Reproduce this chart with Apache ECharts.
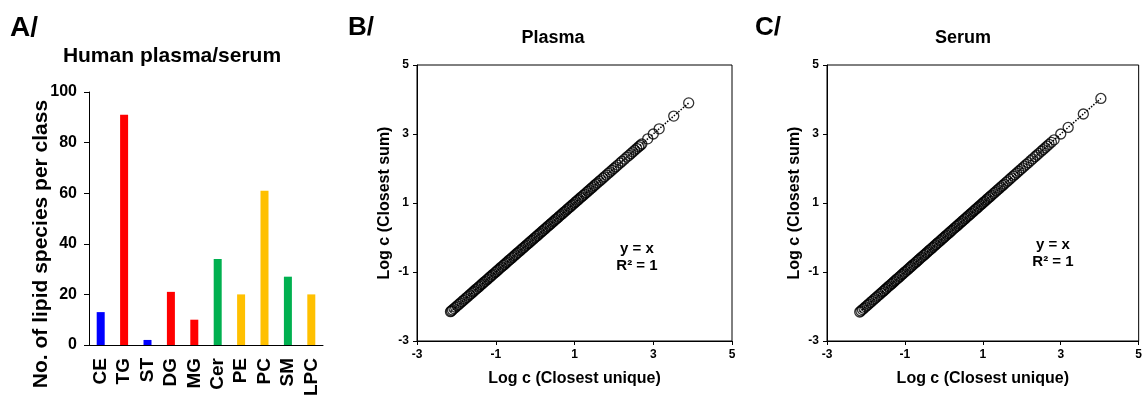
<!DOCTYPE html>
<html>
<head>
<meta charset="utf-8">
<script src="https://cdn.jsdelivr.net/npm/echarts@6/dist/echarts.min.js"></script>
<style>
html,body{margin:0;padding:0;background:#fff;}
#c{width:1145px;height:399px;}
</style>
</head>
<body>
<div id="c"></div>
<script>
// Panel A: lipid classes
const lipidClasses = ['CE','TG','ST','DG','MG','Cer','PE','PC','SM','LPC'];
const speciesCounts = [13, 91, 2, 21, 10, 34, 20, 61, 27, 20];
const classColors = ['#0000FF','#FF0000','#0000FF','#FF0000','#FF0000','#00B050','#FFC000','#FFC000','#00B050','#FFC000'];
const countTicks = [0, 20, 40, 60, 80, 100];

// Panel B: plasma, log c (closest unique) vs log c (closest sum)
const plasmaUnique = [-2.15,-2.13,-2.1,-2.06,-2.02,-1.98,-1.94,-1.9,-1.86,-1.82,-1.78,-1.74,-1.7,-1.66,-1.62,-1.58,-1.55,-1.51,-1.48,-1.44,-1.41,-1.37,-1.34,-1.3,-1.27,-1.23,-1.2,-1.16,-1.13,-1.09,-1.06,-1.02,-0.99,-0.95,-0.92,-0.88,-0.85,-0.81,-0.78,-0.74,-0.71,-0.67,-0.64,-0.6,-0.57,-0.53,-0.5,-0.46,-0.43,-0.39,-0.36,-0.32,-0.29,-0.25,-0.22,-0.18,-0.15,-0.11,-0.08,-0.04,-0.01,0.03,0.06,0.1,0.13,0.17,0.2,0.24,0.27,0.31,0.34,0.38,0.41,0.45,0.48,0.52,0.55,0.59,0.62,0.66,0.69,0.73,0.76,0.8,0.83,0.87,0.9,0.94,0.97,1.01,1.04,1.08,1.11,1.15,1.18,1.22,1.26,1.3,1.34,1.38,1.42,1.46,1.5,1.54,1.58,1.63,1.67,1.72,1.76,1.81,1.86,1.9,1.95,2.0,2.05,2.1,2.16,2.21,2.27,2.33,2.38,2.43,2.48,2.53,2.58,2.63,2.67,2.71,2.86,3.0,3.15,3.52,3.9];
const plasmaSum = [-2.15,-2.13,-2.1,-2.06,-2.02,-1.98,-1.94,-1.9,-1.86,-1.82,-1.78,-1.74,-1.7,-1.66,-1.62,-1.58,-1.55,-1.51,-1.48,-1.44,-1.41,-1.37,-1.34,-1.3,-1.27,-1.23,-1.2,-1.16,-1.13,-1.09,-1.06,-1.02,-0.99,-0.95,-0.92,-0.88,-0.85,-0.81,-0.78,-0.74,-0.71,-0.67,-0.64,-0.6,-0.57,-0.53,-0.5,-0.46,-0.43,-0.39,-0.36,-0.32,-0.29,-0.25,-0.22,-0.18,-0.15,-0.11,-0.08,-0.04,-0.01,0.03,0.06,0.1,0.13,0.17,0.2,0.24,0.27,0.31,0.34,0.38,0.41,0.45,0.48,0.52,0.55,0.59,0.62,0.66,0.69,0.73,0.76,0.8,0.83,0.87,0.9,0.94,0.97,1.01,1.04,1.08,1.11,1.15,1.18,1.22,1.26,1.3,1.34,1.38,1.42,1.46,1.5,1.54,1.58,1.63,1.67,1.72,1.76,1.81,1.86,1.9,1.95,2.0,2.05,2.1,2.16,2.21,2.27,2.33,2.38,2.43,2.48,2.53,2.58,2.63,2.67,2.71,2.86,3.0,3.15,3.52,3.9];
const plasmaFitX = [-2.15, 3.9];
const plasmaFitY = [-2.15, 3.9];

// Panel C: serum
const serumUnique = [-2.16,-2.13,-2.09,-2.05,-2.01,-1.97,-1.93,-1.89,-1.85,-1.81,-1.77,-1.73,-1.69,-1.65,-1.61,-1.57,-1.54,-1.5,-1.47,-1.43,-1.4,-1.36,-1.33,-1.29,-1.26,-1.22,-1.19,-1.15,-1.12,-1.08,-1.05,-1.01,-0.98,-0.94,-0.91,-0.87,-0.84,-0.8,-0.77,-0.73,-0.7,-0.66,-0.63,-0.59,-0.56,-0.52,-0.49,-0.45,-0.42,-0.38,-0.35,-0.31,-0.28,-0.24,-0.21,-0.17,-0.14,-0.1,-0.07,-0.03,0.0,0.04,0.07,0.11,0.14,0.18,0.21,0.25,0.28,0.32,0.35,0.39,0.42,0.46,0.49,0.53,0.56,0.6,0.63,0.67,0.7,0.74,0.77,0.81,0.84,0.88,0.91,0.95,0.98,1.02,1.05,1.09,1.12,1.16,1.19,1.23,1.27,1.31,1.35,1.39,1.43,1.47,1.51,1.55,1.6,1.64,1.69,1.73,1.78,1.82,1.87,1.92,1.97,2.02,2.07,2.12,2.17,2.23,2.28,2.34,2.39,2.44,2.5,2.55,2.6,2.65,2.7,2.76,2.83,3.0,3.19,3.58,4.03];
const serumSum = [-2.16,-2.13,-2.09,-2.05,-2.01,-1.97,-1.93,-1.89,-1.85,-1.81,-1.77,-1.73,-1.69,-1.65,-1.61,-1.57,-1.54,-1.5,-1.47,-1.43,-1.4,-1.36,-1.33,-1.29,-1.26,-1.22,-1.19,-1.15,-1.12,-1.08,-1.05,-1.01,-0.98,-0.94,-0.91,-0.87,-0.84,-0.8,-0.77,-0.73,-0.7,-0.66,-0.63,-0.59,-0.56,-0.52,-0.49,-0.45,-0.42,-0.38,-0.35,-0.31,-0.28,-0.24,-0.21,-0.17,-0.14,-0.1,-0.07,-0.03,0.0,0.04,0.07,0.11,0.14,0.18,0.21,0.25,0.28,0.32,0.35,0.39,0.42,0.46,0.49,0.53,0.56,0.6,0.63,0.67,0.7,0.74,0.77,0.81,0.84,0.88,0.91,0.95,0.98,1.02,1.05,1.09,1.12,1.16,1.19,1.23,1.27,1.31,1.35,1.39,1.43,1.47,1.51,1.55,1.6,1.64,1.69,1.73,1.78,1.82,1.87,1.92,1.97,2.02,2.07,2.12,2.17,2.23,2.28,2.34,2.39,2.44,2.5,2.55,2.6,2.65,2.7,2.76,2.83,3.0,3.19,3.58,4.03];
const serumFitX = [-2.16, 4.03];
const serumFitY = [-2.16, 4.03];

const logTicks = [-3, -1, 1, 3, 5];

const FONT = 'Arial, "Liberation Sans", sans-serif';
const zip = (a, b) => a.map((v, i) => [v, b[i]]);

function logAxis(gridIndex, name, isY) {
  return {
    type: 'value', gridIndex: gridIndex,
    min: logTicks[0], max: logTicks[logTicks.length - 1], interval: logTicks[1] - logTicks[0],
    name: name, nameLocation: 'middle', nameGap: isY ? 24 : 30,
    nameTextStyle: {fontFamily: FONT, fontWeight: 'bold', fontSize: 16, color: '#000'},
    axisLine: {show: true, onZero: false, lineStyle: {color: '#000', width: 1}},
    axisTick: {show: true, inside: false, length: 4, lineStyle: {color: '#000'}},
    axisLabel: {show: true, margin: 8, fontFamily: FONT, fontWeight: 'bold', fontSize: 12, color: '#000'},
    splitLine: {show: false}
  };
}

const chart = echarts.init(document.getElementById('c'), null, {renderer: 'canvas'});
const circleStyle = {color: 'rgba(0,0,0,0)', borderColor: '#000', borderWidth: 1.3};

chart.setOption({
  animation: false,
  backgroundColor: '#fff',
  grid: [
    {left: 89, top: 92, width: 234, height: 253, containLabel: false},
    {left: 417, top: 65, width: 315, height: 276, show: true, borderColor: '#000', borderWidth: 1, backgroundColor: 'transparent'},
    {left: 827, top: 65, width: 315, height: 276, show: true, borderColor: '#000', borderWidth: 1, backgroundColor: 'transparent'}
  ],
  xAxis: [
    {
      type: 'category', gridIndex: 0, data: lipidClasses,
      axisLine: {show: true, lineStyle: {color: '#000', width: 1}},
      axisTick: {show: false},
      axisLabel: {rotate: 90, margin: 13, fontFamily: FONT, fontWeight: 'bold', fontSize: 19, color: '#000', interval: 0}
    },
    logAxis(1, 'Log c (Closest unique)', false),
    logAxis(2, 'Log c (Closest unique)', false)
  ],
  yAxis: [
    {
      type: 'value', gridIndex: 0,
      min: countTicks[0], max: countTicks[countTicks.length - 1], interval: countTicks[1] - countTicks[0],
      axisLine: {show: true, lineStyle: {color: '#000', width: 1}},
      axisTick: {show: true, inside: false, length: 5, lineStyle: {color: '#000'}},
      axisLabel: {margin: 12, fontFamily: FONT, fontWeight: 'bold', fontSize: 16, color: '#000'},
      splitLine: {show: false}
    },
    logAxis(1, 'Log c (Closest sum)', true),
    logAxis(2, 'Log c (Closest sum)', true)
  ],
  series: [
    {
      type: 'bar', xAxisIndex: 0, yAxisIndex: 0, barWidth: 8,
      data: speciesCounts.map((v, i) => ({value: v, itemStyle: {color: classColors[i]}}))
    },
    {
      type: 'line', xAxisIndex: 1, yAxisIndex: 1, showSymbol: false, symbol: 'none',
      lineStyle: {color: '#000', width: 1.5, type: 'dotted'}, data: zip(plasmaFitX, plasmaFitY), z: 1
    },
    {
      type: 'scatter', xAxisIndex: 1, yAxisIndex: 1, symbol: 'circle', symbolSize: 10,
      itemStyle: circleStyle, data: zip(plasmaUnique, plasmaSum), z: 2
    },
    {
      type: 'line', xAxisIndex: 2, yAxisIndex: 2, showSymbol: false, symbol: 'none',
      lineStyle: {color: '#000', width: 1.5, type: 'dotted'}, data: zip(serumFitX, serumFitY), z: 1
    },
    {
      type: 'scatter', xAxisIndex: 2, yAxisIndex: 2, symbol: 'circle', symbolSize: 10,
      itemStyle: circleStyle, data: zip(serumUnique, serumSum), z: 2
    }
  ],
  graphic: [
    {type: 'text', left: 10, top: 14, style: {text: 'A/', font: 'bold 28px ' + FONT, fill: '#000'}},
    {type: 'text', x: 172, y: 56, style: {text: 'Human plasma/serum', font: 'bold 21px ' + FONT, fill: '#000', align: 'center', verticalAlign: 'middle'}},
    {type: 'text', x: 41, y: 244, rotation: Math.PI / 2, style: {text: 'No. of lipid species per class', font: 'bold 21px ' + FONT, fill: '#000', align: 'center', verticalAlign: 'middle'}},
    {type: 'text', left: 348, top: 15, style: {text: 'B/', font: 'bold 26px ' + FONT, fill: '#000'}},
    {type: 'text', x: 553, y: 38, style: {text: 'Plasma', font: 'bold 18px ' + FONT, fill: '#000', align: 'center', verticalAlign: 'middle'}},
    {type: 'text', x: 637, y: 249, style: {text: 'y = x', font: 'bold 15px ' + FONT, fill: '#000', align: 'center', verticalAlign: 'middle'}},
    {type: 'text', x: 637, y: 266, style: {text: 'R² = 1', font: 'bold 15px ' + FONT, fill: '#000', align: 'center', verticalAlign: 'middle'}},
    {type: 'text', left: 755, top: 15, style: {text: 'C/', font: 'bold 26px ' + FONT, fill: '#000'}},
    {type: 'text', x: 963, y: 38, style: {text: 'Serum', font: 'bold 18px ' + FONT, fill: '#000', align: 'center', verticalAlign: 'middle'}},
    {type: 'text', x: 1053, y: 245, style: {text: 'y = x', font: 'bold 15px ' + FONT, fill: '#000', align: 'center', verticalAlign: 'middle'}},
    {type: 'text', x: 1053, y: 262, style: {text: 'R² = 1', font: 'bold 15px ' + FONT, fill: '#000', align: 'center', verticalAlign: 'middle'}}
  ]
});
</script>
</body>
</html>
